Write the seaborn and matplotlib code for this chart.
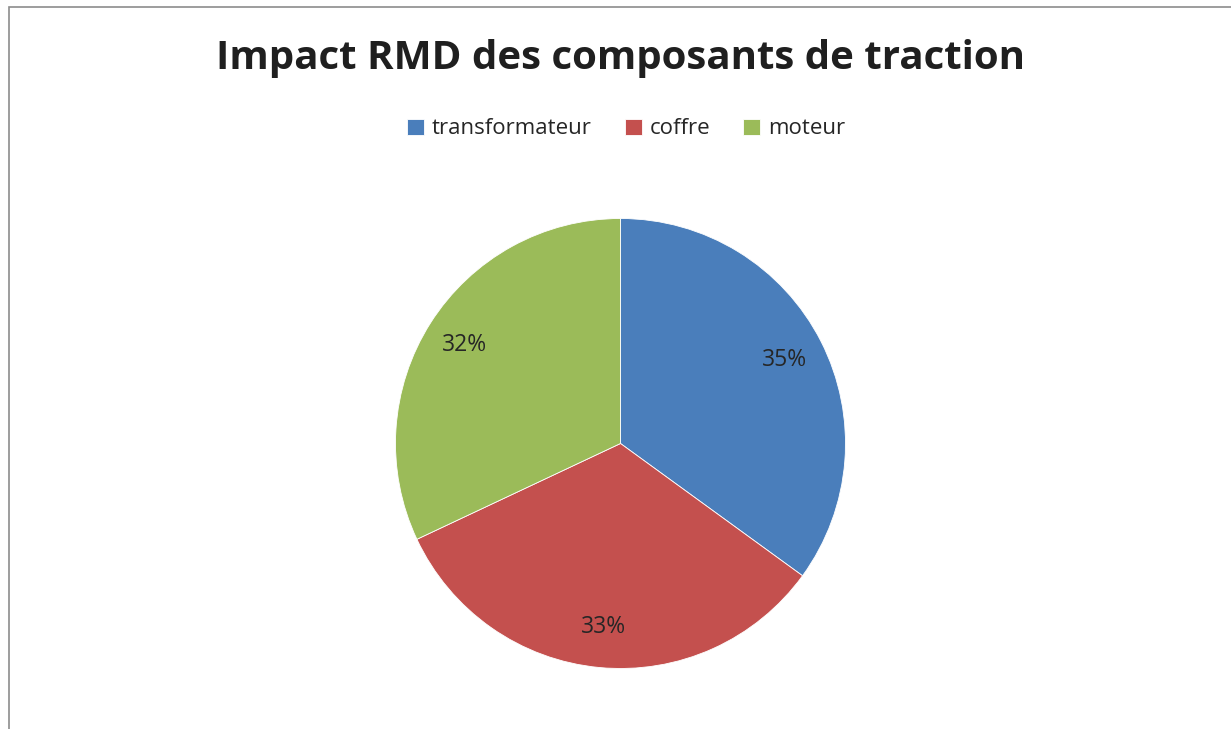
import matplotlib
matplotlib.use("Agg")
import matplotlib.pyplot as plt
import seaborn as sns
from matplotlib.patches import Rectangle

categories = ["transformateur", "coffre", "moteur"]
values = [35, 33, 32]
colors = ["#4A7EBB", "#C4504E", "#9BBB59"]
title = "Impact RMD des composants de traction"

sns.set_theme(style="white")
plt.rcParams['font.family'] = ['Open Sans', 'DejaVu Sans']

W, H = 1231, 729
fig = plt.figure(figsize=(W / 100, H / 100), dpi=100)
fig.patch.set_facecolor("white")

# border
fig.add_artist(Rectangle((8.5 / W, -0.1), 1.5, 1 - 6.5 / H + 0.1, transform=fig.transFigure,
                         fill=False, edgecolor="#8c8c8c", linewidth=1.2))

cx, cy, r = 620.5, 443.5, 225
ax = fig.add_axes([(cx - r) / W, (H - cy - r) / H, 2 * r / W, 2 * r / H])
wedges, texts, autotexts = ax.pie(values, colors=colors, startangle=90, counterclock=False,
                                  autopct=lambda p: f"{p:.0f}%", pctdistance=0.82,
                                  wedgeprops=dict(linewidth=0.6, edgecolor="white"),
                                  textprops=dict(fontsize=16.5, color="#262626"))
ax.set_xlim(-1, 1)
ax.set_ylim(-1, 1)
ax.set_aspect("auto")
ax.axis("off")

fig.text(620 / W, 1 - 58 / H, title, ha="center", va="center", fontsize=29,
         fontweight="bold", color="#1f1f1f")

fig.legend(wedges, categories, loc="center", bbox_to_anchor=(626 / W, 1 - 129 / H), ncol=3,
           frameon=False, fontsize=16, handlelength=0.75, handleheight=0.75,
           handletextpad=0.35, columnspacing=1.5, labelcolor="#262626")

fig.savefig("out.png", dpi=100, facecolor="white")
